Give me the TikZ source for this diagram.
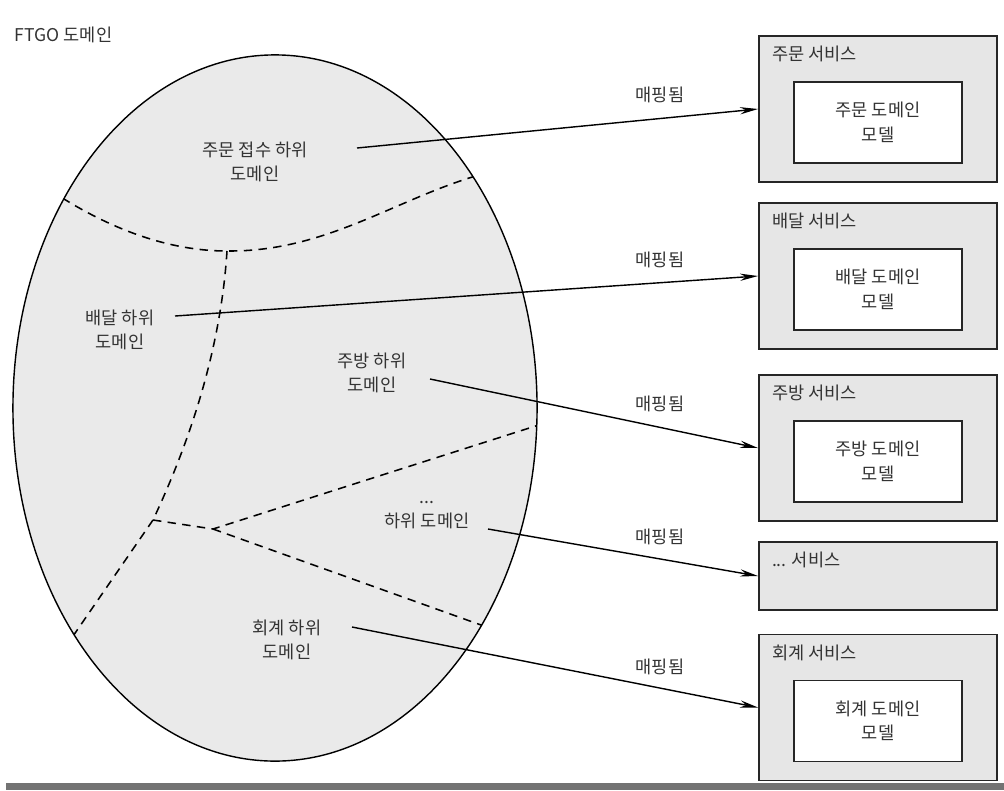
\documentclass[tikz,border=0pt]{standalone}
\usepackage{fontspec}
\setmainfont{Noto Sans CJK KR}
\usetikzlibrary{arrows.meta}
\definecolor{regionfill}{HTML}{EAEAEA}
\definecolor{boxfill}{HTML}{E6E6E6}
\definecolor{inkgray}{HTML}{333333}
\tikzset{
  lbl/.style={text=inkgray,align=center,font=\fontsize{12.5}{17.5}\selectfont},
  svc/.style={draw=black!85,line width=1.3pt,fill=boxfill,minimum width=5.95cm},
  model/.style={lbl,draw=black!85,line width=1.2pt,fill=white,minimum width=4.2cm,minimum height=2.025cm},
  mapto/.style={-{Stealth[length=4.5mm,width=1.8mm]},line width=1pt},
  border/.style={dash pattern=on 6pt off 4.5pt,line width=1.1pt}
}
\begin{document}
\begin{tikzpicture}[x=0.025cm,y=-0.025cm]
    \useasboundingbox (0,0) rectangle (1004,790);
    \node[lbl,anchor=west] (ftgo) at (10,35) {FTGO 도메인};
    % the domain
    \draw[line width=1pt,fill=regionfill] (275,408) ellipse [x radius=6.55cm,y radius=8.825cm];
    \begin{scope}
        \clip (275,408) ellipse [x radius=6.55cm,y radius=8.825cm];
        \draw[border] (50,190) .. controls (110,230) and (170,251) .. (227,251)%
        .. controls (330,252) and (400,195) .. (490,172);
        \draw[border] (227,251) .. controls (222,330) and (200,420) .. (153,520) -- (60,655);
        \draw[border] (153,520) -- (213,529) -- (545,423);
        \draw[border] (213,529) -- (495,630);
    \end{scope}
    \node[lbl] (order) at (255,162) {주문 접수 하위\\도메인};
    \node[lbl] (delivery) at (120,330) {배달 하위\\도메인};
    \node[lbl] (kitchen) at (372,373) {주방 하위\\도메인};
    \node[lbl] (other) at (427,515) {...\\하위 도메인};
    \node[lbl] (account) at (287,640) {회계 하위\\도메인};
    % services
    \node[svc,minimum height=3.65cm] (b1) at (878,109) {};
    \node[svc,minimum height=3.65cm] (b2) at (878,276) {};
    \node[svc,minimum height=3.65cm] (b3) at (878,448) {};
    \node[svc,minimum height=1.7cm] (b4) at (878,576) {};
    \node[svc,minimum height=3.65cm] (b5) at (878,707.5) {};
    \node[lbl,anchor=west] (t1) at ([shift={(9,19)}]b1.north west) {주문 서비스};
    \node[lbl,anchor=west] (t2) at ([shift={(9,19)}]b2.north west) {배달 서비스};
    \node[lbl,anchor=west] (t3) at ([shift={(9,19)}]b3.north west) {주방 서비스};
    \node[lbl,anchor=west] (t4) at ([shift={(9,19)}]b4.north west) {... 서비스};
    \node[lbl,anchor=west] (t5) at ([shift={(9,19)}]b5.north west) {회계 서비스};
    \node[model] (m1) at ([yshift=-9.5]b1.center) {주문 도메인\\모델};
    \node[model] (m2) at ([yshift=-9.5]b2.center) {배달 도메인\\모델};
    \node[model] (m3) at ([yshift=-9.5]b3.center) {주방 도메인\\모델};
    \node[model] (m5) at ([yshift=-9.5]b5.center) {회계 도메인\\모델};
    % mappings
    \coordinate (s1) at (357,148);
    \coordinate (s2) at (175,316);
    \coordinate (s3) at (430,379);
    \coordinate (s4) at (488,529);
    \coordinate (s5) at (352,627);
    \draw[mapto] (s1) -- (b1.west);
    \draw[mapto] (s2) -- (b2.west);
    \draw[mapto] (s3) -- (b3.west);
    \draw[mapto] (s4) -- (b4.west);
    \draw[mapto] (s5) -- (b5.west);
    \node[lbl] (l1) at (660,95) {매핑됨};
    \node[lbl] (l2) at (660,260) {매핑됨};
    \node[lbl] (l3) at (660,404) {매핑됨};
    \node[lbl] (l4) at (660,537) {매핑됨};
    \node[lbl] (l5) at (660,667) {매핑됨};
    \fill[black!55] (6,783) rectangle (1004,790);
\end{tikzpicture}
\end{document}
